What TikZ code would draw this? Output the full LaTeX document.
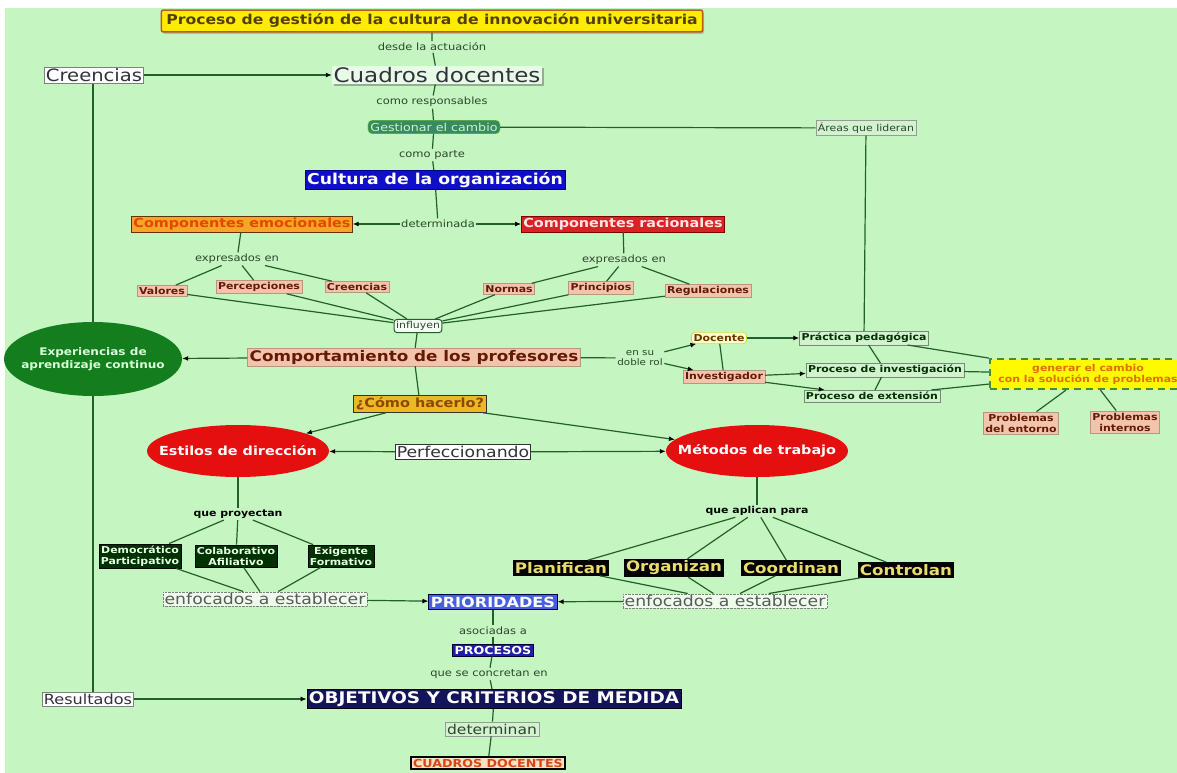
\documentclass[tikz,border=0pt]{standalone}
\usepackage{fontspec}
\setmainfont{DejaVu Sans}[FakeStretch=1.15]
\usepackage{tikz}
\usetikzlibrary{arrows.meta, positioning, shapes.geometric, shadows, backgrounds}
\definecolor{mapbg}{RGB}{197,246,193}
\definecolor{linkgreen}{RGB}{35,95,45}
\definecolor{lbltext}{RGB}{45,70,45}
\definecolor{titleyellow}{RGB}{255,236,0}
\definecolor{titleedge}{RGB}{190,90,20}
\definecolor{titletext}{RGB}{80,65,0}
\definecolor{plaintext}{RGB}{50,50,60}
\definecolor{gestfill}{RGB}{55,140,95}
\definecolor{gesttext}{RGB}{205,240,205}
\definecolor{culturafill}{RGB}{15,15,200}
\definecolor{emofill}{RGB}{245,165,40}
\definecolor{emotext}{RGB}{230,70,0}
\definecolor{racfill}{RGB}{215,35,35}
\definecolor{salmon}{RGB}{242,196,172}
\definecolor{salmonedge}{RGB}{185,150,130}
\definecolor{salmontext}{RGB}{100,25,5}
\definecolor{expgreen}{RGB}{20,125,30}
\definecolor{docfill}{RGB}{255,255,200}
\definecolor{procfill}{RGB}{210,242,208}
\definecolor{genfill}{RGB}{255,250,0}
\definecolor{genedge}{RGB}{70,140,50}
\definecolor{gentext}{RGB}{230,110,0}
\definecolor{comofill}{RGB}{235,185,35}
\definecolor{redell}{RGB}{230,15,15}
\definecolor{dkfill}{RGB}{0,50,0}
\definecolor{blktext}{RGB}{235,220,110}
\definecolor{priofill}{RGB}{70,95,220}
\definecolor{procesosfill}{RGB}{30,30,170}
\definecolor{objfill}{RGB}{20,20,90}
\definecolor{cdfill}{RGB}{250,225,195}
\definecolor{cdtext}{RGB}{215,70,20}
\newcommand{\fsz}[2]{\fontsize{#1}{#2}\selectfont}

\begin{document}
\begin{tikzpicture}[x=1pt, y=-1pt,
  lnk/.style={draw=linkgreen, line width=1.2pt},
  arr/.style={lnk, -{Latex[length=6pt, width=5pt, color=black]}},
  lbl/.style={font=\fsz{10}{12}, text=lbltext, inner sep=1.5pt},
  plainbox/.style={draw=gray, fill=white, text=plaintext, inner sep=1.5pt},
  thinbox/.style={draw=gray!80, fill=procfill, text=lbltext, inner sep=2pt, font=\fsz{9.5}{11}},
  salbox/.style={draw=salmonedge, fill=salmon, text=salmontext, inner sep=2pt, font=\bfseries\fsz{9.5}{11}},
  procbox/.style={draw=gray!90!green, fill=procfill, text=black!80!green, inner sep=2pt, font=\bfseries\fsz{9.5}{11}},
  dkbox/.style={draw=black, fill=dkfill, text=white!90!green, align=center, inner sep=2pt, font=\bfseries\fsz{9.5}{11}},
  blkbox/.style={fill=black, text=blktext, inner sep=2pt, font=\bfseries\fsz{14.5}{16}},
  enfbox/.style={draw=gray, densely dotted, fill=white!70!mapbg, text=black!65, inner sep=1.5pt, font=\fsz{15}{17}},
  ovaltxt/.style={text=white, font=\bfseries\fsz{12.5}{14}},
  redoval/.style={ellipse, fill=redell, inner sep=0pt, minimum width=182pt, minimum height=52pt}]
  \useasboundingbox (0,0) rectangle (1177,773);
  \begin{scope}[on background layer]
    \fill[white] (0,0) rectangle (1177,773);
    \fill[mapbg] (5,8) rectangle (1177,773);
  \end{scope}

  % top: title and cuadros docentes
  \node[draw=titleedge, line width=1.6pt, fill=titleyellow, rounded corners=2pt, text=titletext,
        font=\bfseries\fsz{13.6}{15}, inner xsep=5pt, inner ysep=4pt,
        drop shadow={shadow xshift=1.5pt, shadow yshift=-2pt, fill=black!45}] (titulo) at (432,21)
        {Proceso de gestión de la cultura de innovación universitaria};
  \node[lbl] (desde) at (432,47) {desde la actuación};
  \node[plainbox, fill=white!60!mapbg, draw=none, font=\fsz{20}{22},
        drop shadow={shadow xshift=2pt, shadow yshift=-2pt, fill=black!60}] (cuadros) at (437,75) {Cuadros docentes};
  \node[plainbox, font=\fsz{17}{19}] (creencias) at (94,75) {Creencias};
  \node[lbl] (responsables) at (432,102) {como responsables};
  \node[fill=gestfill, draw=yellow!60!green, rounded corners=4pt, text=gesttext, font=\fsz{11}{13}, inner sep=2.5pt] (gestionar) at (434,127) {Gestionar el cambio};
  \node[thinbox] (areas) at (866,128) {Áreas que lideran};
  \node[lbl] (parte) at (432,155) {como parte};
  \node[fill=culturafill, draw=blue!50!black, text=white, font=\bfseries\fsz{15}{17}, inner sep=2pt] (cultura) at (435,180) {Cultura de la organización};

  % componentes
  \node[lbl] (determinada) at (438,224) {determinada};
  \node[fill=emofill, draw=black!60!orange, text=emotext, font=\bfseries\fsz{12.5}{14}, inner sep=2pt] (emocionales) at (242,224) {Componentes emocionales};
  \node[fill=racfill, draw=red!50!black, text=white!90!red, font=\bfseries\fsz{12.5}{14}, inner sep=2pt] (racionales) at (623,224) {Componentes racionales};
  \node[lbl] (exprL) at (237,259) {expresados en};
  \node[lbl] (exprR) at (624,260) {expresados en};
  \node[salbox] (valores) at (162,291) {Valores};
  \node[salbox] (percepciones) at (259,287) {Percepciones};
  \node[salbox] (creenciasb) at (357,287) {Creencias};
  \node[salbox] (normas) at (509,289) {Normas};
  \node[salbox] (principios) at (601,288) {Principios};
  \node[salbox] (regulaciones) at (708,291) {Regulaciones};
  \node[draw=linkgreen, line width=1pt, fill=white!80!mapbg, rounded corners=3pt, text=lbltext, font=\fsz{9.5}{11}, inner sep=2pt] (influyen) at (418,326) {influyen};

  % comportamiento
  \node[salbox, font=\bfseries\fsz{14.6}{16}] (comport) at (414,357) {Comportamiento de los profesores};
  \node[ellipse, fill=expgreen, inner sep=0pt, minimum width=178pt, minimum height=74pt,
        label={[text=white!85!green, font=\bfseries\fsz{10.5}{13}, align=center]center:Experiencias de\\aprendizaje continuo}] (experiencias) at (93,359) {};
  \node[lbl, align=center, font=\fsz{9}{10}] (doblerol) at (640,358) {en su\\doble rol};
  \node[draw=yellow!50!olive, fill=docfill, rounded corners=3pt, text=black!40!orange!70!black, font=\bfseries\fsz{9.5}{11}, inner sep=2pt] (docente) at (719,338) {Docente};
  \node[salbox] (investigador) at (724,377) {Investigador};
  \node[procbox] (practica) at (864,338) {Práctica pedagógica};
  \node[procbox] (procinv) at (885,370) {Proceso de investigación};
  \node[procbox] (procext) at (872,396) {Proceso de extensión};
  \node[fill=genfill, draw=genedge, dash pattern=on 7pt off 5pt, line width=2.4pt, text=gentext, align=center,
        font=\bfseries\fsz{9.5}{11}, minimum width=196pt, minimum height=30pt, inner sep=1pt] (generar) at (1088,374)
        {generar el cambio\\con la solución de problemas};
  \node[salbox, align=center] (entorno) at (1021,423) {Problemas\\del entorno};
  \node[salbox, align=center] (internos) at (1125,422) {Problemas\\internos};

  % como hacerlo
  \node[fill=comofill, draw=black!80, line width=1pt, text=black!30!orange!80!black, font=\bfseries\fsz{12.6}{14}, inner sep=2pt] (como) at (420,404) {¿Cómo hacerlo?};
  \node[redoval, label={[ovaltxt]center:Estilos de dirección}] (estilos) at (238,451) {};
  \node[redoval, label={[ovaltxt]center:Métodos de trabajo}] (metodos) at (757,451) {};
  \node[plainbox, draw=black!80, line width=1pt, font=\fsz{15}{17}] (perfecc) at (463,452) {Perfeccionando};

  % estilos de direccion
  \node[lbl, text=black, font=\bfseries\fsz{9.5}{11}] (proyectan) at (238,514) {que proyectan};
  \node[dkbox] (democ) at (140,556) {Democrático\\Participativo};
  \node[dkbox] (colab) at (236,556) {Colaborativo\\Afiliativo};
  \node[dkbox] (exig) at (341,556) {Exigente\\Formativo};
  \node[enfbox] (enfocL) at (265,599) {enfocados a establecer};

  % metodos de trabajo
  \node[lbl, text=black, font=\bfseries\fsz{9.5}{11}] (aplican) at (757,511) {que aplican para};
  \node[blkbox] (planif) at (561,568) {Planifican};
  \node[blkbox] (organ) at (674,568) {Organizan};
  \node[blkbox] (coord) at (791,568) {Coordinan};
  \node[blkbox] (contr) at (906,570) {Controlan};
  \node[enfbox] (enfocR) at (725,601) {enfocados a establecer};

  % bottom column
  \node[fill=priofill, draw=blue!30!black, line width=1pt, text=white, font=\bfseries\fsz{14}{16}, inner sep=2pt] (prioridades) at (493,602) {PRIORIDADES};
  \node[lbl] (asociadas) at (493,631) {asociadas a};
  \node[fill=procesosfill, draw=blue!20!black, text=white, font=\bfseries\fsz{11}{13}, inner sep=2pt] (procesos) at (493,650) {PROCESOS};
  \node[lbl] (concretan) at (489,674) {que se concretan en};
  \node[fill=objfill, draw=black, text=white, font=\bfseries\fsz{16}{18}, inner sep=2pt] (objetivos) at (494,699) {OBJETIVOS Y CRITERIOS DE MEDIDA};
  \node[plainbox, font=\fsz{14}{16}] (resultados) at (88,699) {Resultados};
  \node[thinbox, font=\fsz{13.5}{15}] (determinan) at (492,729) {determinan};
  \node[fill=cdfill, draw=black, line width=1.6pt, text=cdtext, font=\bfseries\fsz{11}{13}, inner sep=2pt] (cuadrosfin) at (488,763) {CUADROS DOCENTES};

  % connectors
  \draw[lnk] (titulo) -- (desde) (desde) -- (cuadros);
  \draw[arr] (creencias) -- (cuadros);
  \draw[lnk] (cuadros) -- (responsables) (responsables) -- (gestionar);
  \draw[lnk] (gestionar) -- (parte) (parte) -- (cultura);
  \draw[lnk] (gestionar) -- (areas);
  \draw[lnk] (areas) -- (practica);
  \draw[lnk] (cultura) -- (determinada);
  \draw[arr] (determinada) -- (emocionales);
  \draw[arr] (determinada) -- (racionales);
  \draw[lnk] (emocionales) -- (exprL);
  \draw[lnk] (racionales) -- (exprR);
  \foreach \n in {valores, percepciones, creenciasb}
    \draw[lnk] (exprL) -- (\n);
  \foreach \n in {normas, principios, regulaciones}
    \draw[lnk] (exprR) -- (\n);
  \foreach \n in {valores, percepciones, creenciasb, normas, principios, regulaciones}
    \draw[lnk] (\n) -- (influyen);
  \draw[lnk] (influyen) -- (comport);
  \draw[arr] (comport) -- (experiencias);
  \draw[lnk] (comport) -- (doblerol);
  \draw[arr] (doblerol) -- (docente);
  \draw[arr] (doblerol) -- (investigador);
  \draw[lnk] (docente) -- (investigador);
  \draw[arr] (docente) -- (practica);
  \draw[arr] (investigador) -- (procinv);
  \draw[arr] (investigador) -- (procext);
  \draw[lnk] (practica) -- (procinv) (procinv) -- (procext);
  \foreach \n in {practica, procinv, procext}
    \draw[lnk] (\n) -- (generar);
  \draw[lnk] (generar) -- (entorno);
  \draw[lnk] (generar) -- (internos);
  \draw[lnk] (comport) -- (como);
  \draw[arr] (como) -- (estilos);
  \draw[arr] (como) -- (metodos);
  \draw[arr] (perfecc) -- (estilos);
  \draw[arr] (perfecc) -- (metodos);
  \draw[lnk] (estilos) -- (proyectan);
  \foreach \n in {democ, colab, exig} {
    \draw[lnk] (proyectan) -- (\n);
    \draw[lnk] (\n) -- (enfocL);
  }
  \draw[arr] (enfocL) -- (prioridades);
  \draw[lnk] (metodos) -- (aplican);
  \foreach \n in {planif, organ, coord, contr} {
    \draw[lnk] (aplican) -- (\n);
    \draw[lnk] (\n) -- (enfocR);
  }
  \draw[arr] (enfocR) -- (prioridades);
  \draw[lnk] (prioridades) -- (asociadas) (asociadas) -- (procesos);
  \draw[lnk] (procesos) -- (concretan) (concretan) -- (objetivos);
  \draw[arr] (resultados) -- (objetivos);
  \draw[lnk] (objetivos) -- (determinan) (determinan) -- (cuadrosfin);
  \begin{scope}[on background layer]
    \draw[lnk] (creencias.south -| experiencias.north) -- (resultados.north -| experiencias.north);
  \end{scope}
\end{tikzpicture}
\end{document}
